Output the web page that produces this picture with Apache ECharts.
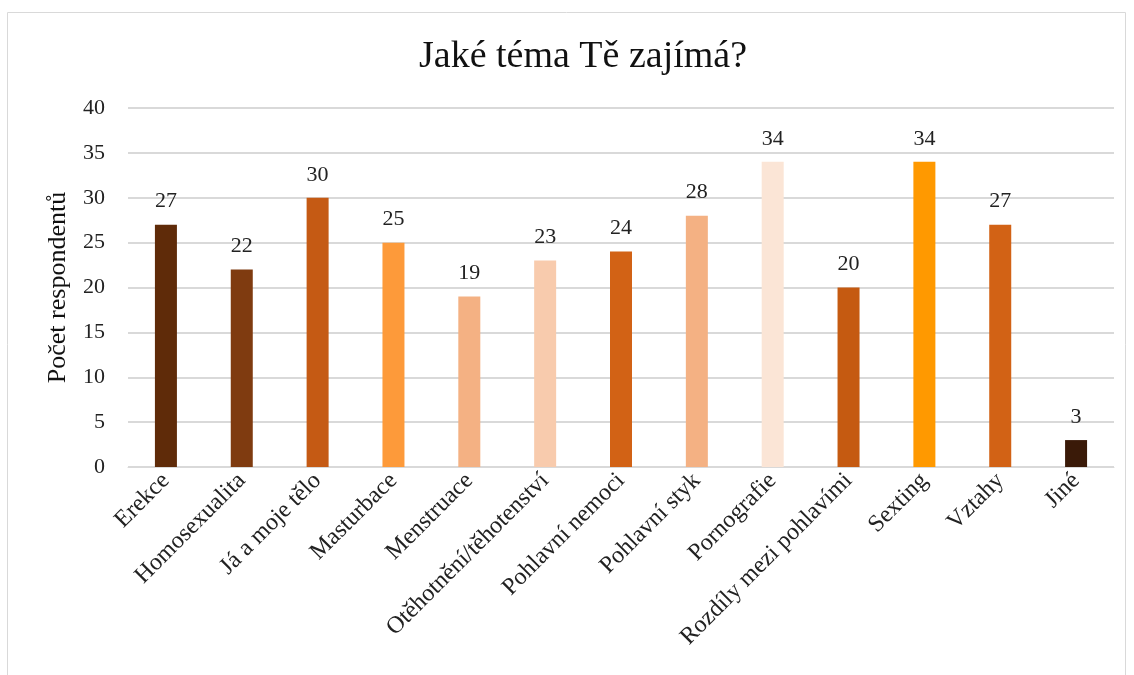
<!DOCTYPE html>
<html><head><meta charset="utf-8">
<script src="https://cdn.jsdelivr.net/npm/echarts@6/dist/echarts.min.js"></script>
<style>html,body{margin:0;padding:0;background:#fff}#c{width:1134px;height:675px}</style>
</head><body><div id="c"></div>
<script>
const categories = ["Erekce","Homosexualita","Já a moje tělo","Masturbace","Menstruace","Otěhotnění/těhotenství","Pohlavní nemoci","Pohlavní styk","Pornografie","Rozdíly mezi pohlavími","Sexting","Vztahy","Jiné"];
const values = [27,22,30,25,19,23,24,28,34,20,34,27,3];
const barColors = ["#5f2b09","#7f3b10","#c55a14","#fd9a3a","#f4b183","#f8cbad","#d26215","#f4b183","#fbe5d6","#c55a11","#ff9900","#d26215","#3a1a08"];
const yTicks = [0,5,10,15,20,25,30,35,40];

const font = "'Liberation Serif','Times New Roman',serif";
const chart = echarts.init(document.getElementById('c'));
chart.setOption({
  animation:false,
  title:{text:"Jaké téma Tě zajímá?",left:414,top:33,textStyle:{fontFamily:font,fontWeight:'normal',fontSize:38,color:'#111'}},
  graphic:[{type:'rect',shape:{x:7.5,y:12.5,width:1118,height:670},style:{fill:'none',stroke:'#d9d9d9',lineWidth:1},silent:true}],
  grid:{left:128,right:20,top:108,bottom:208},
  xAxis:{type:'category',data:categories,
    axisLine:{lineStyle:{color:'#d9d9d9',width:1}},axisTick:{show:false},
    axisLabel:{interval:0,rotate:45,margin:10,fontFamily:font,fontSize:24,color:'#222'}},
  yAxis:{type:'value',min:yTicks[0],max:yTicks[yTicks.length-1],interval:5,
    name:"Počet respondentů",nameLocation:'middle',nameGap:57,nameRotate:90,
    nameTextStyle:{fontFamily:font,fontSize:26,color:'#111'},
    axisLine:{show:false},axisTick:{show:false},
    axisLabel:{fontFamily:font,fontSize:22,color:'#222',margin:23},
    splitLine:{lineStyle:{color:'#d9d9d9',width:2}}},
  series:[{type:'bar',data:values.map((v,i)=>({value:v,itemStyle:{color:barColors[i]}})),
    barWidth:22,
    label:{show:true,position:'top',distance:12,fontFamily:font,fontSize:22,color:'#222'}}]
});
</script></body></html>
